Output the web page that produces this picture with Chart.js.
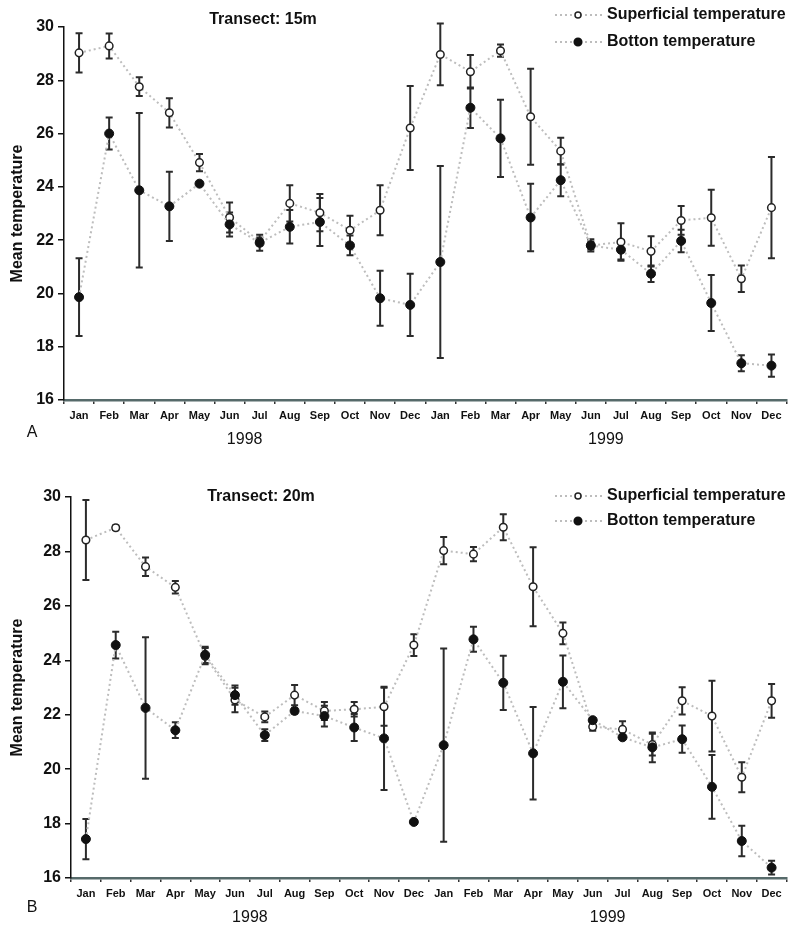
<!DOCTYPE html>
<html>
<head>
<meta charset="utf-8">
<title>Mean temperature by transect</title>
<script src="https://cdn.jsdelivr.net/npm/chart.js@4.4.1/dist/chart.umd.min.js"></script>
<style>
  html, body { margin: 0; padding: 0; background: #fff; }
  canvas { position: absolute; left: 0; }
  #chartA { top: 0; }
  #chartB { top: 465px; }
</style>
</head>
<body>
<canvas id="chartA" width="792" height="465"></canvas>
<canvas id="chartB" width="792" height="465"></canvas>
<script>
// Meses de 1998 y 1999
const monthNames = ['Jan', 'Feb', 'Mar', 'Apr', 'May', 'Jun', 'Jul', 'Aug', 'Sep', 'Oct', 'Nov', 'Dec'];
const months = monthNames.concat(monthNames);
const years = ['1998', '1999'];
const yMin = 16, yMax = 30, yStep = 2;

// Transecto 15 m
const supA    = [29.03, 29.29, 27.76, 26.78, 24.91, 22.85, 21.95, 23.38, 23.03, 22.37, 23.12, 26.21,
                 28.97, 28.32, 29.11, 26.63, 25.34, 21.80, 21.93, 21.58, 22.74, 22.84, 20.55, 23.22];
const supErrA = [0.74, 0.47, 0.35, 0.55, 0.32, 0.56, 0.15, 0.68, 0.70, 0.55, 0.94, 1.58,
                 1.16, 0.63, 0.23, 1.80, 0.50, 0.15, 0.70, 0.57, 0.54, 1.05, 0.50, 1.90];
const botA    = [19.86, 26.00, 23.87, 23.27, 24.12, 22.59, 21.90, 22.50, 22.68, 21.80, 19.82, 19.57,
                 21.18, 26.97, 25.82, 22.85, 24.25, 21.80, 21.64, 20.74, 21.97, 19.64, 17.38, 17.29];
const botErrA = [1.46, 0.60, 2.90, 1.30, 0.05, 0.45, 0.30, 0.63, 0.90, 0.37, 1.03, 1.17,
                 3.60, 0.76, 1.45, 1.27, 0.60, 0.23, 0.37, 0.31, 0.42, 1.05, 0.30, 0.42];

// Transecto 20 m
const supB    = [28.42, 28.87, 27.44, 26.68, 24.15, 22.54, 21.92, 22.72, 22.14, 22.20, 22.29, 24.56,
                 28.03, 27.90, 28.89, 26.70, 24.99, 21.56, 21.46, 20.90, 22.51, 21.95, 19.70, 22.51];
const supErrB = [1.47, 0.08, 0.34, 0.23, 0.30, 0.45, 0.20, 0.37, 0.33, 0.27, 0.70, 0.40,
                 0.50, 0.26, 0.48, 1.45, 0.40, 0.15, 0.30, 0.40, 0.50, 1.30, 0.55, 0.62];
const botB    = [17.43, 24.56, 22.25, 21.43, 24.20, 22.72, 21.25, 22.14, 21.95, 21.53, 21.13, 18.06,
                 20.88, 24.77, 23.17, 20.58, 23.21, 21.80, 21.17, 20.80, 21.10, 19.35, 17.36, 16.38];
const botErrB = [0.74, 0.49, 2.60, 0.29, 0.30, 0.35, 0.22, 0.10, 0.38, 0.50, 1.90, 0.05,
                 3.55, 0.46, 1.00, 1.70, 0.97, 0.08, 0.08, 0.55, 0.50, 1.17, 0.56, 0.25];

const seriesNames = ['Superficial temperature', 'Botton temperature'];

Chart.defaults.font.family = "'Liberation Sans', Arial, sans-serif";
Chart.defaults.color = '#111';

// Barras de error (media ± desvío) dibujadas con la escala y del gráfico
const errorBars = {
    id: 'errorBars',
    beforeDatasetsDraw(chart) {
        const ctx = chart.ctx;
        const y = chart.scales.y;
        ctx.save();
        ctx.strokeStyle = '#2b2b2b';
        ctx.lineWidth = 2;
        chart.data.datasets.forEach((ds, di) => {
            const meta = chart.getDatasetMeta(di);
            ds.errors.forEach((e, i) => {
                const px = meta.data[i].x;
                const top = y.getPixelForValue(ds.data[i] + e);
                const bot = y.getPixelForValue(ds.data[i] - e);
                ctx.beginPath();
                ctx.moveTo(px, top); ctx.lineTo(px, bot);
                ctx.moveTo(px - 3.5, top); ctx.lineTo(px + 3.5, top);
                ctx.moveTo(px - 3.5, bot); ctx.lineTo(px + 3.5, bot);
                ctx.stroke();
            });
        });
        ctx.restore();
    }
};

// Título del transecto, leyenda, años y letra del panel
const panelDecor = {
    id: 'panelDecor',
    afterDraw(chart, args, opts) {
        const ctx = chart.ctx;
        const x = chart.scales.x;
        ctx.save();
        ctx.fillStyle = '#111';
        ctx.textBaseline = 'middle';

        ctx.font = "bold 16px 'Liberation Sans', Arial, sans-serif";
        ctx.textAlign = 'center';
        ctx.fillText(opts.title, opts.titleX, opts.titleY);

        chart.data.datasets.forEach((ds, i) => {
            const ly = opts.legendY + i * opts.legendGap;
            ctx.save();
            ctx.strokeStyle = ds.borderColor;
            ctx.lineWidth = 2;
            ctx.setLineDash(ds.borderDash);
            ctx.beginPath();
            ctx.moveTo(opts.legendX, ly);
            ctx.lineTo(opts.legendX + 48, ly);
            ctx.stroke();
            ctx.restore();
            ctx.beginPath();
            ctx.arc(opts.legendX + 23, ly, i === 0 ? 3 : 3.8, 0, Math.PI * 2);
            ctx.fillStyle = ds.pointBackgroundColor;
            ctx.fill();
            ctx.lineWidth = 1.5;
            ctx.strokeStyle = ds.pointBorderColor;
            ctx.stroke();
            ctx.fillStyle = '#111';
            ctx.textAlign = 'left';
            ctx.fillText(ds.label, opts.legendX + 52, ly);
        });

        ctx.font = "16px 'Liberation Sans', Arial, sans-serif";
        ctx.textAlign = 'center';
        years.forEach((yr, i) => {
            const cx = (x.getPixelForValue(i * 12) + x.getPixelForValue(i * 12 + 11)) / 2;
            ctx.fillText(yr, cx, opts.yearY);
        });
        ctx.fillText(opts.letter, opts.letterX, opts.letterY);
        ctx.restore();
    }
};

function buildChart(id, sup, supErr, bot, botErr, geo) {
    const ctx = document.getElementById(id).getContext('2d');
    return new Chart(ctx, {
        type: 'line',
        data: {
            labels: months,
            datasets: [{
                label: seriesNames[0],
                data: sup,
                errors: supErr,
                order: 1,
                borderColor: '#bdbdbd',
                borderWidth: 2,
                borderDash: [2, 3],
                fill: false,
                tension: 0,
                pointRadius: 3.8,
                pointBackgroundColor: '#ffffff',
                pointBorderColor: '#222',
                pointBorderWidth: 1.5
            }, {
                label: seriesNames[1],
                data: bot,
                errors: botErr,
                order: 0,
                borderColor: '#bdbdbd',
                borderWidth: 2,
                borderDash: [2, 3],
                fill: false,
                tension: 0,
                pointRadius: 4.5,
                pointBackgroundColor: '#111',
                pointBorderColor: '#111',
                pointBorderWidth: 1
            }]
        },
        options: {
            responsive: false,
            animation: false,
            layout: { padding: { top: geo.top, right: 1, left: 0, bottom: 0 } },
            plugins: {
                legend: { display: false },
                tooltip: { enabled: false },
                panelDecor: geo.decor
            },
            scales: {
                x: {
                    offset: true,
                    afterFit: s => { s.height = geo.xHeight; },
                    grid: { drawOnChartArea: false, offset: true, tickLength: 4, color: '#333', lineWidth: 1.5 },
                    border: { color: '#566a6a', width: 2.5 },
                    ticks: { autoSkip: false, maxRotation: 0, padding: 5, font: { size: 11, weight: 'bold' } }
                },
                y: {
                    min: yMin,
                    max: yMax,
                    afterFit: s => { s.width = geo.yWidth; },
                    grid: { drawOnChartArea: false, tickLength: 6, color: '#111', lineWidth: 1.5 },
                    border: { color: '#111', width: 1.5 },
                    ticks: { stepSize: yStep, padding: 4, font: { size: 16, weight: 'bold' } },
                    title: {
                        display: true,
                        text: 'Mean temperature',
                        padding: { top: 8, bottom: 0 },
                        font: { size: 16, weight: 'bold' }
                    }
                }
            }
        },
        plugins: [errorBars, panelDecor]
    });
}

window.addEventListener('DOMContentLoaded', () => {
    buildChart('chartA', supA, supErrA, botA, botErrA, {
        top: 27, xHeight: 65, yWidth: 64,
        decor: { title: 'Transect: 15m', titleX: 263, titleY: 20, legendX: 555, legendY: 15, legendGap: 27,
                 yearY: 440, letter: 'A', letterX: 32, letterY: 433 }
    });
    buildChart('chartB', supB, supErrB, botB, botErrB, {
        top: 32, xHeight: 52, yWidth: 71,
        decor: { title: 'Transect: 20m', titleX: 261, titleY: 32, legendX: 555, legendY: 31, legendGap: 25,
                 yearY: 453, letter: 'B', letterX: 32, letterY: 443 }
    });
});
</script>
</body>
</html>
